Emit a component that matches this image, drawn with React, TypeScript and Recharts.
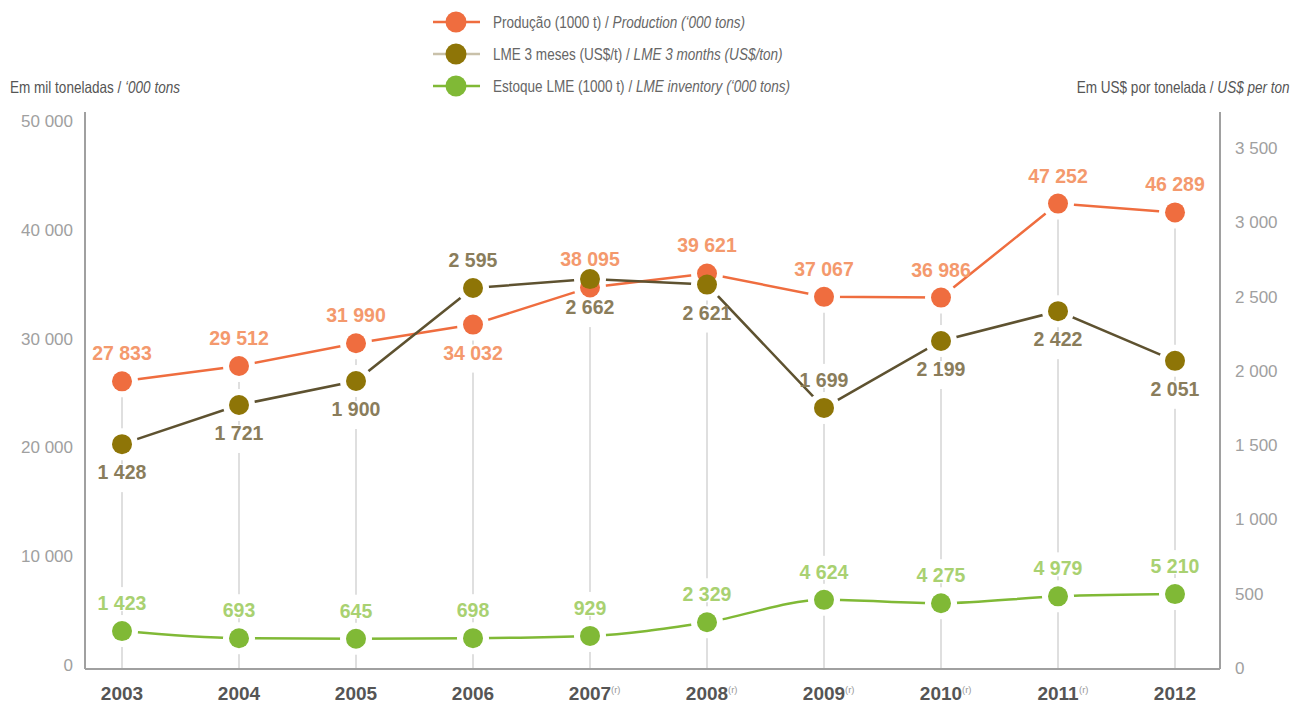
import {
  LineChart,
  Line,
  XAxis,
  YAxis,
  ReferenceLine,
  LabelList,
} from 'recharts'

const YEARS = ['2003', '2004', '2005', '2006', '2007', '2008', '2009', '2010', '2011', '2012']
const YEAR_NOTES = ['', '', '', '', '(r)', '(r)', '(r)', '(r)', '(r)', '']

// thousand tons
const PRODUCTION = [27833, 29512, 31990, 34032, 38095, 39621, 37067, 36986, 47252, 46289]
const LME_STOCK = [1423, 693, 645, 698, 929, 2329, 4624, 4275, 4979, 5210]
// US$ per ton
const LME_PRICE = [1428, 1721, 1900, 2595, 2662, 2621, 1699, 2199, 2422, 2051]

const PRODUCTION_LABEL_SIDE = ['up', 'up', 'up', 'down', 'up', 'up', 'up', 'up', 'up', 'up']
const PRICE_LABEL_SIDE = ['down', 'down', 'down', 'up', 'down', 'down', 'up', 'down', 'down', 'down']
const STOCK_LABEL_SIDE = ['up', 'up', 'up', 'up', 'up', 'up', 'up', 'up', 'up', 'up']

const LEFT_TICKS = [0, 10000, 20000, 30000, 40000, 50000]
const RIGHT_TICKS = [0, 500, 1000, 1500, 2000, 2500, 3000, 3500]

const LEGEND_PT = ['Produção (1000 t)', 'LME 3 meses (US$/t)', 'Estoque LME (1000 t)']
const LEGEND_EN = ['Production (‘000 tons)', 'LME 3 months (US$/ton)', 'LME inventory (‘000 tons)']

const ORANGE = '#EF6D3F'
const ORANGE_LABEL = '#F4996D'
const OLIVE_DOT = '#8E7507'
const OLIVE_LINE = '#5E5230'
const OLIVE_LABEL = '#8A7D5B'
const GREEN = '#80B936'
const GREEN_LABEL = '#A9D171'
const AXIS_GREY = '#A0A0A0'
const DROP_GREY = '#D4D4D4'

const SANS = "'Liberation Sans', Arial, sans-serif"

// the printed axes don't line up with the plotted points in the original,
// so the series sit on their own hidden scales
const PROD_DOMAIN: [number, number] = [-3594, 57260]
const STOCK_DOMAIN: [number, number] = [-2456, 54555]
const USD_DOMAIN: [number, number] = [-253, 3911]

const data = YEARS.map((year, i) => ({
  year,
  production: PRODUCTION[i],
  price: LME_PRICE[i],
  stock: LME_STOCK[i],
}))

const fmt = (v: number) => String(v).replace(/\B(?=(\d{3})+(?!\d))/g, ' ')

function makeLabel(color: string, sides: string[]) {
  return (props: any) => {
    const { x, y, value, index } = props
    if (x == null || y == null) return null
    const up = sides[index] === 'up'
    const cy = up ? y - 28 : y + 28
    // narrow white strip only knocks out the grey drop line behind the text
    const top = up ? cy - 16 : cy - 8
    const bottom = up ? cy + 8 : cy + 20
    return (
      <g>
        <rect x={x - 4} y={top} width={8} height={bottom - top} fill="#fff" />
        <text
          x={x}
          y={cy + 7}
          textAnchor="middle"
          fill={color}
          fontFamily={SANS}
          fontWeight="bold"
          fontSize={19.5}
        >
          {fmt(Number(value))}
        </text>
      </g>
    )
  }
}

function YearTick(props: any) {
  const { x, y, payload, index } = props
  const note = YEAR_NOTES[index] ?? ''
  return (
    <g>
      <text
        x={x}
        y={y + 31}
        textAnchor="middle"
        fill="#555"
        fontFamily={SANS}
        fontWeight="bold"
        fontSize={19}
      >
        {payload.value}
      </text>
      {note && (
        <text x={x + 21} y={y + 24} fill="#999" fontFamily={SANS} fontSize={9.5}>
          {note}
        </text>
      )}
    </g>
  )
}

const narrowText = (origin: string): React.CSSProperties => ({
  fontFamily: SANS,
  fontSize: 16.5,
  color: '#666',
  whiteSpace: 'nowrap',
  display: 'inline-block',
  transform: 'scaleX(0.82)',
  transformOrigin: origin,
})

function LegendRow({ i, color, lineColor }: { i: number; color: string; lineColor: string }) {
  return (
    <div
      style={{
        position: 'absolute',
        left: 433,
        top: 10 + i * 32,
        height: 24,
        display: 'flex',
        alignItems: 'center',
        whiteSpace: 'nowrap',
      }}
    >
      <svg width={60} height={24}>
        <line x1={0} y1={12} x2={47} y2={12} stroke={lineColor} strokeWidth={2.5} />
        <circle cx={23} cy={12} r={10.5} fill={color} />
      </svg>
      <span style={narrowText('left center')}>
        {LEGEND_PT[i]} / <i>{LEGEND_EN[i]}</i>
      </span>
    </div>
  )
}

export default function App() {
  return (
    <div style={{ position: 'absolute', left: 0, top: 0, width: 1293, height: 704, background: '#fff' }}>
      <LegendRow i={0} color={ORANGE} lineColor={ORANGE} />
      <LegendRow i={1} color={OLIVE_DOT} lineColor="#C9C1AA" />
      <LegendRow i={2} color={GREEN} lineColor={GREEN} />

      <div style={{ position: 'absolute', left: 10, top: 78 }}>
        <span style={{ ...narrowText('left center'), color: '#555' }}>
          Em mil toneladas / <i>‘000 tons</i>
        </span>
      </div>
      <div style={{ position: 'absolute', right: 3, top: 78 }}>
        <span style={{ ...narrowText('right center'), color: '#555' }}>
          Em US$ por tonelada / <i>US$ per ton</i>
        </span>
      </div>

      <LineChart
        width={1293}
        height={704}
        data={data}
        margin={{ top: 112, right: 13, bottom: 0, left: 15 }}
      >
        <XAxis
          dataKey="year"
          interval={0}
          height={35}
          padding={{ left: 37, right: 45 }}
          axisLine={{ stroke: AXIS_GREY, strokeWidth: 2 }}
          tickLine={false}
          tickSize={0}
          tickMargin={0}
          tick={<YearTick />}
        />
        <YAxis
          yAxisId="leftTicks"
          orientation="left"
          width={70}
          type="number"
          domain={[-368, 50827]}
          allowDataOverflow
          ticks={LEFT_TICKS}
          tickFormatter={fmt}
          axisLine={{ stroke: AXIS_GREY, strokeWidth: 2 }}
          tickLine={false}
          tickSize={0}
          tickMargin={12}
          tick={{ fill: AXIS_GREY, fontFamily: SANS, fontSize: 17 }}
        />
        <YAxis
          yAxisId="rightTicks"
          orientation="right"
          width={60}
          type="number"
          domain={[-7, 3742]}
          allowDataOverflow
          ticks={RIGHT_TICKS}
          tickFormatter={fmt}
          axisLine={{ stroke: AXIS_GREY, strokeWidth: 2 }}
          tickLine={false}
          tickSize={0}
          tickMargin={15}
          tick={{ fill: AXIS_GREY, fontFamily: SANS, fontSize: 17, textAnchor: 'start' }}
        />
        <YAxis yAxisId="prod" hide type="number" domain={PROD_DOMAIN} allowDataOverflow />
        <YAxis yAxisId="stock" hide type="number" domain={STOCK_DOMAIN} allowDataOverflow />
        <YAxis yAxisId="usd" hide orientation="right" type="number" domain={USD_DOMAIN} allowDataOverflow />

        {YEARS.map((year, i) => (
          <ReferenceLine
            key={year}
            yAxisId="prod"
            segment={[
              { x: year, y: PROD_DOMAIN[0] },
              { x: year, y: PRODUCTION[i] },
            ]}
            stroke={DROP_GREY}
            strokeWidth={1.5}
          />
        ))}

        {/* white halos that knock the drop lines out around each point */}
        <Line yAxisId="prod" dataKey="production" stroke="none" dot={{ r: 16, fill: '#fff', stroke: 'none' }} activeDot={false} isAnimationActive={false} />
        <Line yAxisId="usd" dataKey="price" stroke="none" dot={{ r: 16, fill: '#fff', stroke: 'none' }} activeDot={false} isAnimationActive={false} />
        <Line yAxisId="stock" dataKey="stock" stroke="none" dot={{ r: 16, fill: '#fff', stroke: 'none' }} activeDot={false} isAnimationActive={false} />

        <Line
          yAxisId="prod"
          dataKey="production"
          type="linear"
          stroke={ORANGE}
          strokeWidth={2.5}
          dot={{ r: 10, fill: ORANGE, stroke: 'none' }}
          activeDot={false}
          isAnimationActive={false}
        >
          <LabelList dataKey="production" content={makeLabel(ORANGE_LABEL, PRODUCTION_LABEL_SIDE)} />
        </Line>
        <Line
          yAxisId="usd"
          dataKey="price"
          type="linear"
          stroke={OLIVE_LINE}
          strokeWidth={2.5}
          dot={{ r: 10, fill: OLIVE_DOT, stroke: 'none' }}
          activeDot={false}
          isAnimationActive={false}
        >
          <LabelList dataKey="price" content={makeLabel(OLIVE_LABEL, PRICE_LABEL_SIDE)} />
        </Line>
        <Line
          yAxisId="stock"
          dataKey="stock"
          type="monotone"
          stroke={GREEN}
          strokeWidth={2.5}
          dot={{ r: 10, fill: GREEN, stroke: 'none' }}
          activeDot={false}
          isAnimationActive={false}
        >
          <LabelList dataKey="stock" content={makeLabel(GREEN_LABEL, STOCK_LABEL_SIDE)} />
        </Line>
      </LineChart>
    </div>
  )
}
